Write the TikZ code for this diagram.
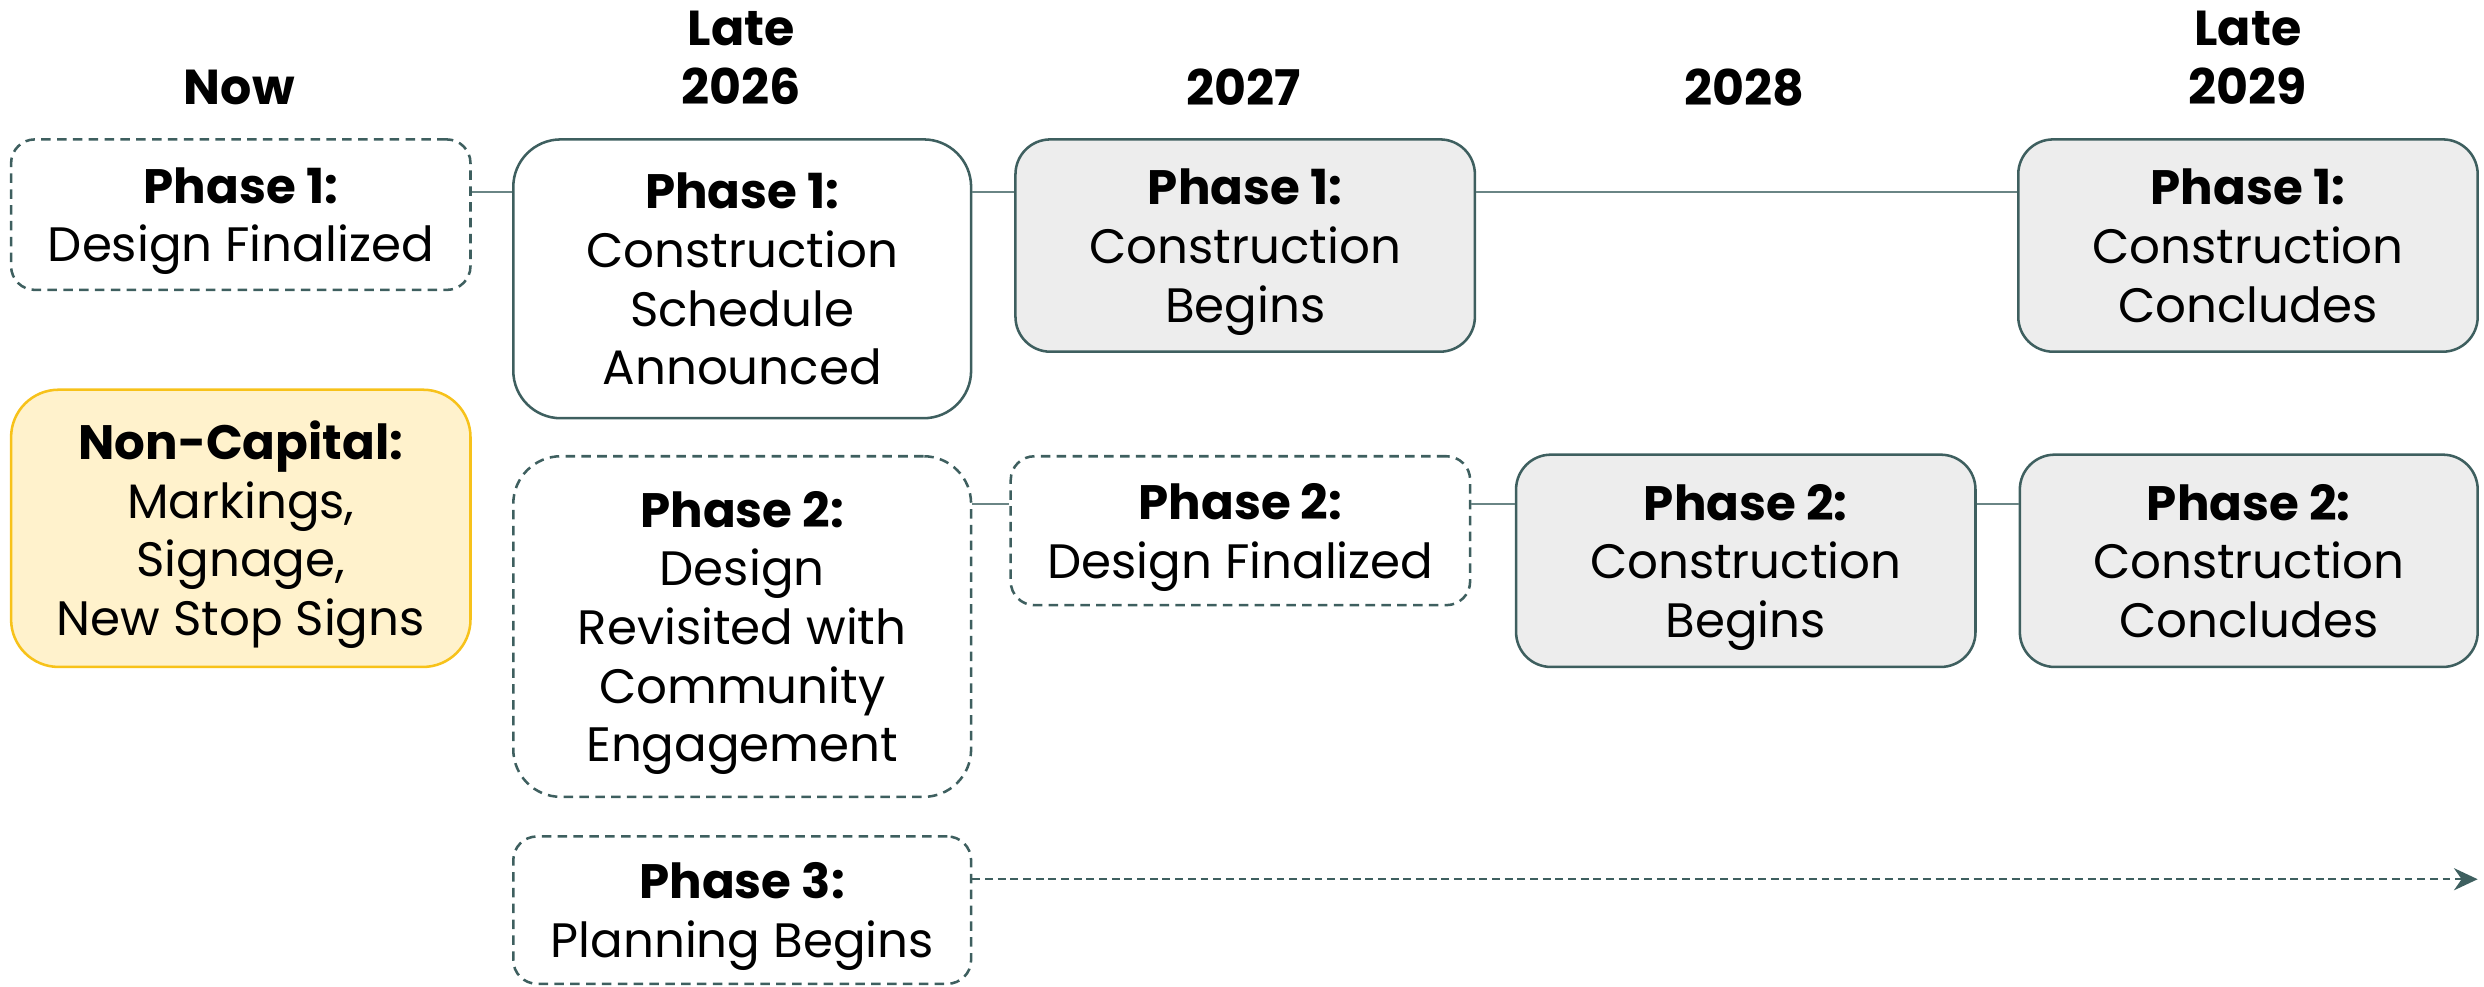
\documentclass[tikz,border=0pt]{standalone}
\usepackage{fontspec}
\setmainfont{Poppins}
\usetikzlibrary{arrows.meta}
\definecolor{edge}{HTML}{3E5F5F}
\definecolor{conncol}{HTML}{6A8585}
\definecolor{grayfill}{HTML}{EDEDED}
\definecolor{yelfill}{HTML}{FFF2CC}
\definecolor{yeledge}{HTML}{F7C21A}
\begin{document}
\begin{tikzpicture}[x=1pt,y=-1pt,
  box/.style={draw=edge, line width=1.6pt, align=center, inner sep=0pt, text depth=0pt,
    font=\fontsize{30.5}{37}\selectfont, minimum width=290pt},
  dashbox/.style={box, dash pattern=on 6pt off 4pt},
  graybox/.style={box, fill=grayfill},
  yelbox/.style={box, draw=yeledge, fill=yelfill},
  header/.style={align=center, inner sep=0pt, text depth=0pt, font=\fontsize{31}{37}\selectfont\bfseries},
  conn/.style={draw=conncol, line width=1.3pt},
  dconn/.style={draw=edge, line width=1.1pt, dash pattern=on 5pt off 3pt, -{Stealth[length=15pt,width=14pt]}}
]
\useasboundingbox (0,0) rectangle (1568,623);
% headers
\node[header] (hnow) at (151,55) {Now};
\node[header] (h26) at (468,36.5) {Late\\2026};
\node[header] (h27) at (785,55) {2027};
\node[header] (h28) at (1101,55) {2028};
\node[header] (h29) at (1419,36.5) {Late\\2029};
% row 1
\node[dashbox, rounded corners=15pt, minimum height=95pt] (p1a) at (152,135.5) {\textbf{Phase 1:}\\Design Finalized};
\node[box, rounded corners=30pt, minimum height=176pt, minimum width=289pt] (p1b) at (468.5,176) {\textbf{Phase 1:}\\Construction\\Schedule\\Announced};
\node[graybox, rounded corners=22pt, minimum height=134pt] (p1c) at (786,155) {\textbf{Phase 1:}\\Construction\\Begins};
\node[graybox, rounded corners=22pt, minimum height=134pt] (p1d) at (1419,155) {\textbf{Phase 1:}\\Construction\\Concludes};
% non-capital
\node[yelbox, rounded corners=30pt, minimum height=175pt] (nc) at (152,333.5) {\textbf{Non-Capital:}\\Markings,\\Signage,\\New Stop Signs};
% row 2
\node[dashbox, rounded corners=30pt, minimum height=215pt, minimum width=289pt] (p2a) at (468.5,395.5) {\textbf{Phase 2:}\\Design\\Revisited with\\Community\\Engagement};
\node[dashbox, rounded corners=15pt, minimum height=94pt] (p2b) at (783,335) {\textbf{Phase 2:}\\Design Finalized};
\node[graybox, rounded corners=22pt, minimum height=134pt] (p2c) at (1102,354) {\textbf{Phase 2:}\\Construction\\Begins};
\node[graybox, rounded corners=22pt, minimum height=134pt, minimum width=289pt] (p2d) at (1419.5,354) {\textbf{Phase 2:}\\Construction\\Concludes};
% row 3
\node[dashbox, rounded corners=15pt, minimum height=93pt, minimum width=289pt] (p3) at (468.5,574.5) {\textbf{Phase 3:}\\Planning Begins};
% helper rows
\coordinate (r1) at (0,121);
\coordinate (r2) at (0,318);
\coordinate (r3) at (0,555);
\coordinate (arrend) at (1564,555);
% connectors
\draw[conn] (p1a.east |- r1) -- (p1b.west |- r1);
\draw[conn] (p1b.east |- r1) -- (p1c.west |- r1);
\draw[conn] (p1c.east |- r1) -- (p1d.west |- r1);
\draw[conn] (p2a.east |- r2) -- (p2b.west |- r2);
\draw[conn] (p2b.east |- r2) -- (p2c.west |- r2);
\draw[conn] (p2c.east |- r2) -- (p2d.west |- r2);
\draw[dconn] (p3.east |- r3) -- (arrend);
\end{tikzpicture}
\end{document}
